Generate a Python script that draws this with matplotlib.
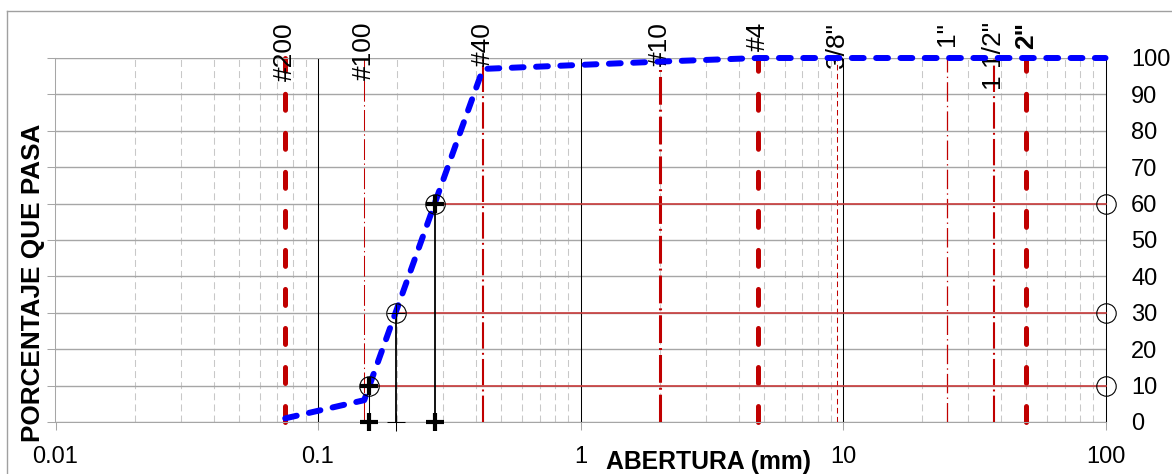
import numpy as np
import matplotlib
matplotlib.use("Agg")
import matplotlib.pyplot as plt
from matplotlib.lines import Line2D
import matplotlib.transforms as mtransforms

plt.rcParams['font.family'] = ['Liberation Sans', 'DejaVu Sans']
plt.rcParams['lines.scale_dashes'] = False

# Curva granulometrica
abertura = [0.075, 0.15, 0.425, 2.0, 4.75, 9.5, 25.0, 37.5, 50.0, 100.0]
pasa = [1, 6, 97, 99, 100, 100, 100, 100, 100, 100]

# Tamices
tamiz_nombre = ['#200', '#100', '#40', '#10', '#4', '3/8"', '1"', '1 1/2"', '2"']
tamiz_mm = [0.075, 0.15, 0.425, 2.0, 4.75, 9.5, 25.0, 37.5, 50.0]

# D10, D30, D60
d_pct = [10, 30, 60]
d_mm = [0.157, 0.198, 0.279]

ROJO = '#C00000'
# estilo de cada linea de tamiz: (grosor, patron, negrita)
estilos = [
    (3.6, (0, (11.5, 16.6)), False),
    (0.75, (0, (15, 2.5, 1, 2.5)), False),
    (1.5, (0, (19, 3, 1.4, 3)), False),
    (2.2, (0, (20, 3.6, 1.4, 3.6)), False),
    (3.6, (0, (11.5, 16.6)), False),
    (0.75, (0, (4, 2.5)), False),
    (0.9, (0, (14, 3, 1, 3)), False),
    (1.5, (0, (19, 3, 1.4, 3)), False),
    (3.6, (0, (11.5, 16.6)), True),
]

W, H = 1172, 474
fig = plt.figure(figsize=(W / 100, H / 100), dpi=100)
x0, x1, y0, y1 = 55.5, 1105.5, 422, 58
ax = fig.add_axes([x0 / W, (H - y0) / H, (x1 - x0) / W, (y0 - y1) / H])

ax.set_xscale('log')
ax.set_xlim(0.01, 100)
ax.set_ylim(0, 100)

# rejilla
ax.set_yticks(np.arange(0, 101, 10))
ax.yaxis.grid(True, color='#A6A6A6', lw=1.0)
ax.xaxis.grid(True, which='minor', color='#C8C8C8', lw=0.75, linestyle=(0, (5, 3)))
ax.xaxis.grid(False, which='major')
for d in [0.1, 1, 10]:
    ax.axvline(d, color='black', lw=0.75, zorder=1.6)

ax.set_xticks([0.01, 0.1, 1, 10, 100])
ax.set_xticklabels(['0.01', '0.1', '1', '10', '100'])
ax.tick_params(axis='x', which='major', direction='out', length=5.5, width=0.75,
               color='#A6A6A6', labelsize=17, pad=11.5)
ax.tick_params(axis='x', which='minor', length=0)
ax.tick_params(axis='y', which='major', direction='out', length=5.5, width=0.75,
               color='#A6A6A6', left=True, right=False, labelleft=False,
               labelright=True, labelsize=17, pad=13)

for s in ['left', 'bottom', 'top']:
    ax.spines[s].set_color('#A6A6A6')
    ax.spines[s].set_linewidth(0.75)
ax.spines['right'].set_color('black')
ax.spines['right'].set_linewidth(0.75)

# lineas de tamices
trans = mtransforms.blended_transform_factory(ax.transData, ax.transAxes)
for nombre, mm, (lw, ls, negrita) in zip(tamiz_nombre, tamiz_mm, estilos):
    ln, = ax.plot([mm, mm], [0, 100], color=ROJO, lw=lw, linestyle=ls,
                  clip_on=False, zorder=2)
    ln.set_dash_capstyle('round' if lw > 3 else 'butt')
    ax.text(mm, 1.099, nombre, transform=trans, rotation=90, ha='center', va='top',
            fontsize=19, fontweight='bold' if negrita else 'normal', clip_on=False)

# curva
curva, = ax.plot(abertura, pasa, color='#0000FF', lw=4.3,
                 linestyle=(0, (8.5, 9.0)), clip_on=False, zorder=4)
curva.set_dash_capstyle('round')

# D10, D30, D60
grosor_v = [0.75, 1.3, 1.3]
cruz_mew = [3.0, 0.75, 3.0]
for pct, mm, lwv, mew in zip(d_pct, d_mm, grosor_v, cruz_mew):
    ax.plot([mm, 100], [pct, pct], color='#C83C3C', lw=1.2, zorder=3, clip_on=False)
    ax.plot([mm, mm], [0, pct], color='black', lw=lwv, zorder=3, clip_on=False)
    ax.plot([mm, 100], [pct, pct], linestyle='none', marker='o', ms=14,
            mfc='none', mec='black', mew=0.8, zorder=5, clip_on=False)
    ax.plot([mm, mm], [pct, 0], linestyle='none', marker='+', ms=13,
            mec='black', mew=mew, zorder=6, clip_on=False)

fig.text(709 / W, 5 / H, 'ABERTURA (mm)', ha='center', va='baseline',
         fontsize=17.8, fontweight='bold')
fig.text(33 / W, (H - 283) / H, 'PORCENTAJE QUE PASA', ha='center', va='center',
         rotation=90, fontsize=18.8, fontweight='bold')

# marco exterior
fig.add_artist(Line2D([7 / W, 1], [1 - 11 / H, 1 - 11 / H], transform=fig.transFigure,
                      color='#A0A0A0', lw=1))
fig.add_artist(Line2D([7 / W, 7 / W], [0, 1 - 11 / H], transform=fig.transFigure,
                      color='#A0A0A0', lw=1))

fig.savefig('out.png', dpi=100)
